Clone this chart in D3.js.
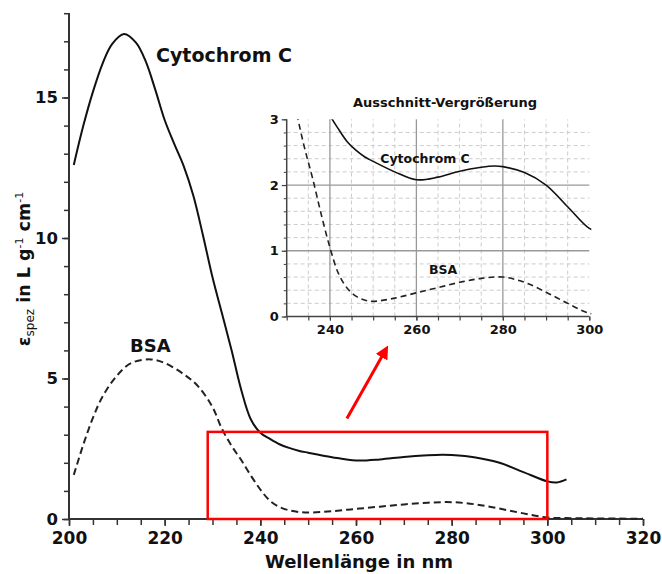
<!DOCTYPE html>
<html><head><meta charset="utf-8">
<script src="https://cdn.jsdelivr.net/npm/d3@7"></script>
<style>body{margin:0;background:#fff}svg{display:block}text{font-family:"DejaVu Sans",Verdana,sans-serif;font-weight:bold;fill:#111}</style>
</head><body><svg id="c" width="662" height="574"></svg>
<script>
// ---- data ----
const cytoWl  = [201,203,205,207,209,211.5,214,216,218,220,222,224,226,228,230,232,234,236,238,240,242,244,246,248,250,255,260,265,270,275,278,280,285,290,295,300,302,304];
const cytoVal = [12.6,14.0,15.2,16.2,16.9,17.26,16.95,16.3,15.3,14.2,13.35,12.55,11.5,10.1,8.6,7.3,6.0,4.6,3.55,3.07,2.85,2.66,2.53,2.43,2.36,2.2,2.08,2.12,2.21,2.27,2.29,2.28,2.19,2.0,1.67,1.34,1.3,1.41];
const bsaWl   = [201,203,205,207,210,213,217,220,224,227,230,232,234,236,238,240,242,244,246,248,250,255,260,265,270,275,280,285,290,295,300,305,310,320];
const bsaVal  = [1.57,2.65,3.6,4.35,5.1,5.55,5.68,5.55,5.15,4.72,3.98,3.2,2.6,2.1,1.55,1.05,0.65,0.43,0.31,0.25,0.23,0.28,0.36,0.44,0.52,0.58,0.6,0.52,0.37,0.2,0.05,0.03,0.02,0.01];
const xTicksMain = [200,220,240,260,280,300,320];
const yTicksMain = [0,5,10,15];
const xTicksInset = [240,260,280,300];
const yTicksInset = [0,1,2,3];
const zoomBox = {x0:229, x1:300, y0:0, y1:3.1};
const arrowPts = [[258.1,3.58],[266.3,6.05]];

const svg = d3.select("#c");
const x = d3.scaleLinear().domain([200,320]).range([69,643]);
const y = d3.scaleLinear().domain([0,18]).range([519,13.2]);
const cyto = cytoWl.map((d,i)=>[d,cytoVal[i]]);
const bsa = bsaWl.map((d,i)=>[d,bsaVal[i]]);

// ---- main axes ----
const axisCol = "#333";
const gx = svg.append("g").attr("transform","translate(0,519)");
gx.call(d3.axisBottom(x).tickValues(d3.range(200,321,5)).tickSize(6).tickFormat(""));
gx.call(g=>g.selectAll("line").attr("stroke",axisCol).attr("stroke-width",1.5));
gx.select(".domain").remove();
const gx2 = svg.append("g").attr("transform","translate(0,519)");
gx2.call(d3.axisBottom(x).tickValues(xTicksMain).tickSize(7).tickPadding(6).tickFormat(d3.format("d")));
gx2.select(".domain").attr("stroke",axisCol).attr("stroke-width",2).attr("d","M69,0H643");
gx2.selectAll("line").attr("stroke",axisCol).attr("stroke-width",1.5);
gx2.selectAll("text").attr("font-size",17).style("fill","#111");

const gy = svg.append("g").attr("transform","translate(69,0)");
gy.call(d3.axisLeft(y).tickValues(d3.range(0,19,1)).tickSize(5).tickFormat(""));
gy.select(".domain").remove();
gy.selectAll("line").attr("stroke",axisCol).attr("stroke-width",1.5);
const gy2 = svg.append("g").attr("transform","translate(69,0)");
gy2.call(d3.axisLeft(y).tickValues(yTicksMain).tickSize(7).tickPadding(4).tickFormat(d3.format("d")));
gy2.select(".domain").attr("stroke",axisCol).attr("stroke-width",2).attr("d","M0,519V13");
gy2.selectAll("line").attr("stroke",axisCol).attr("stroke-width",1.5);
gy2.selectAll("text").attr("font-size",16.5).style("fill","#111");

// axis titles
svg.append("text").attr("x",359).attr("y",568).attr("text-anchor","middle").attr("font-size",18).text("Wellenlänge in nm");
const yt = svg.append("text").attr("transform","translate(30,269) rotate(-90)").attr("text-anchor","middle").attr("font-size",17.5);
yt.append("tspan").text("ε");
yt.append("tspan").attr("font-size",12).attr("font-weight","normal").attr("dy",4).text("spez");
yt.append("tspan").attr("dy",-4).text(" in L g");
yt.append("tspan").attr("font-size",11).attr("font-weight","normal").attr("dy",-7).text("-1");
yt.append("tspan").attr("dy",7).text(" cm");
yt.append("tspan").attr("font-size",11).attr("font-weight","normal").attr("dy",-7).text("-1");

// ---- main curves ----
const line = d3.line().x(d=>x(d[0])).y(d=>y(d[1])).curve(d3.curveCatmullRom.alpha(0.5));
svg.append("path").datum(cyto).attr("d",line).attr("fill","none").attr("stroke","#111").attr("stroke-width",2);
svg.append("path").datum(bsa).attr("d",line).attr("fill","none").attr("stroke","#222").attr("stroke-width",2).attr("stroke-dasharray","7,4");

svg.append("text").attr("x",156).attr("y",62).attr("font-size",19).text("Cytochrom C");
svg.append("text").attr("x",130).attr("y",352).attr("font-size",18).text("BSA");

// zoom box & arrow
svg.append("rect").attr("x",x(zoomBox.x0)).attr("y",y(zoomBox.y1))
  .attr("width",x(zoomBox.x1)-x(zoomBox.x0)).attr("height",y(zoomBox.y0)-y(zoomBox.y1))
  .attr("fill","none").attr("stroke","#ff0000").attr("stroke-width",2.5);
svg.append("defs").append("marker").attr("id","ah").attr("viewBox","0 0 10 10").attr("refX",7).attr("refY",5)
  .attr("markerWidth",4.5).attr("markerHeight",4.5).attr("orient","auto")
  .append("path").attr("d","M0,0L10,5L0,10Z").attr("fill","#ff0000");
svg.append("line").attr("x1",x(arrowPts[0][0])).attr("y1",y(arrowPts[0][1]))
  .attr("x2",x(arrowPts[1][0])).attr("y2",y(arrowPts[1][1]))
  .attr("stroke","#ff0000").attr("stroke-width",3).attr("marker-end","url(#ah)");

// ---- inset ----
const xi = d3.scaleLinear().domain([230,300]).range([286.7,589.3]);
const yi = d3.scaleLinear().domain([0,3]).range([316.5,119.3]);
const ins = svg.append("g");
d3.range(235,300,5).filter(v=>v%20!==0).forEach(v=>{
  ins.append("line").attr("x1",xi(v)).attr("x2",xi(v)).attr("y1",yi(0)).attr("y2",yi(3))
    .attr("stroke","#ccc").attr("stroke-width",1).attr("stroke-dasharray","4,3");
});
d3.range(1,15).map(k=>k*0.2).filter(v=>Math.abs(v-1)>0.01&&Math.abs(v-2)>0.01).forEach(v=>{
  ins.append("line").attr("x1",xi(230)).attr("x2",xi(300)).attr("y1",yi(v)).attr("y2",yi(v))
    .attr("stroke","#ccc").attr("stroke-width",1).attr("stroke-dasharray","4,3");
});
[240,260,280].forEach(v=>{
  ins.append("line").attr("x1",xi(v)).attr("x2",xi(v)).attr("y1",yi(0)).attr("y2",yi(3))
    .attr("stroke","#999").attr("stroke-width",1.3);
});
[1,2].forEach(v=>{
  ins.append("line").attr("x1",xi(230)).attr("x2",xi(300)).attr("y1",yi(v)).attr("y2",yi(v))
    .attr("stroke","#999").attr("stroke-width",1.3);
});
const ix = ins.append("g").attr("transform",`translate(0,${yi(0)})`);
ix.call(d3.axisBottom(xi).tickValues(d3.range(230,301,5)).tickSize(4).tickFormat(""));
ix.select(".domain").remove();
ix.selectAll("line").attr("stroke","#444").attr("stroke-width",1.2);
const ix2 = ins.append("g").attr("transform",`translate(0,${yi(0)})`);
ix2.call(d3.axisBottom(xi).tickValues(xTicksInset).tickSize(4).tickPadding(4).tickFormat(d3.format("d")));
ix2.select(".domain").attr("stroke","#444").attr("stroke-width",1.5).attr("d",`M${xi(230)},0H${xi(300)}`);
ix2.selectAll("line").attr("stroke","#444").attr("stroke-width",1.2);
ix2.selectAll("text").attr("font-size",13).style("fill","#111");
const iy = ins.append("g").attr("transform",`translate(${xi(230)},0)`);
iy.call(d3.axisLeft(yi).tickValues(d3.range(0,16).map(k=>k*0.2)).tickSize(3).tickFormat(""));
iy.select(".domain").remove();
iy.selectAll("line").attr("stroke","#444").attr("stroke-width",1);
const iy2 = ins.append("g").attr("transform",`translate(${xi(230)},0)`);
iy2.call(d3.axisLeft(yi).tickValues(yTicksInset).tickSize(5).tickPadding(3).tickFormat(d3.format("d")));
iy2.select(".domain").attr("stroke","#444").attr("stroke-width",1.5).attr("d",`M0,${yi(0)}V${yi(3)}`);
iy2.selectAll("line").attr("stroke","#444").attr("stroke-width",1.2);
iy2.selectAll("text").attr("font-size",13).style("fill","#111");

svg.select("defs").append("clipPath").attr("id","ic").append("rect")
  .attr("x",xi(230)).attr("y",yi(3)).attr("width",xi(300)-xi(230)+2).attr("height",yi(0)-yi(3));
const linei = d3.line().x(d=>xi(d[0])).y(d=>yi(d[1])).curve(d3.curveCatmullRom.alpha(0.5));
const cg = ins.append("g").attr("clip-path","url(#ic)");
cg.append("path").datum(cyto.filter(d=>d[0]>=236&&d[0]<=302)).attr("d",linei).attr("fill","none").attr("stroke","#111").attr("stroke-width",1.6);
cg.append("path").datum(bsa.filter(d=>d[0]>=230&&d[0]<=305)).attr("d",linei).attr("fill","none").attr("stroke","#222").attr("stroke-width",1.6).attr("stroke-dasharray","6,4");

ins.append("text").attr("x",445).attr("y",107).attr("text-anchor","middle").attr("font-size",13).text("Ausschnitt-Vergrößerung");
ins.append("text").attr("x",xi(262)).attr("y",yi(2.33)).attr("text-anchor","middle").attr("font-size",12.5).text("Cytochrom C");
ins.append("text").attr("x",xi(266.2)).attr("y",yi(0.64)).attr("text-anchor","middle").attr("font-size",12.5).text("BSA");
</script></body></html>
